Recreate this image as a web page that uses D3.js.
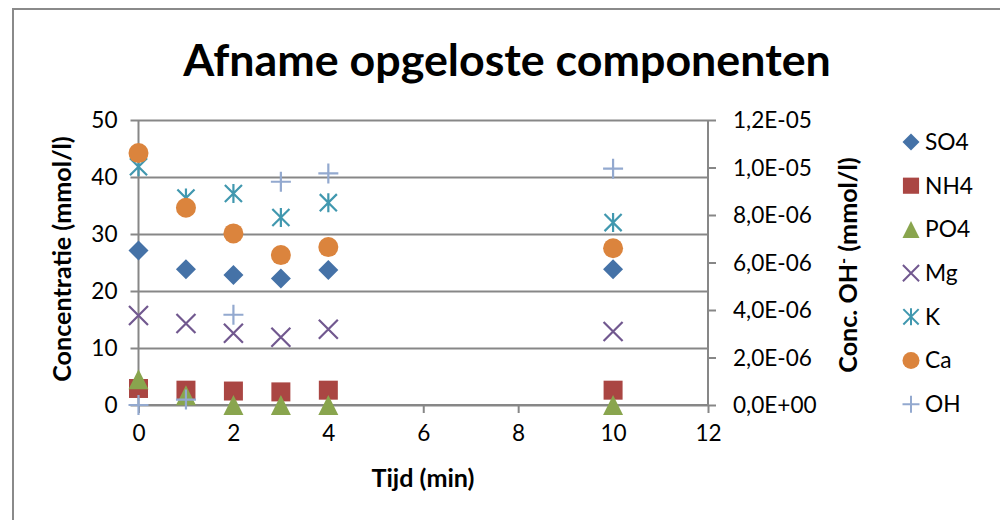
<!DOCTYPE html>
<html>
<head>
<meta charset="utf-8">
<script src="https://cdn.jsdelivr.net/npm/d3@7"></script>
<style>
  html, body { margin: 0; padding: 0; background: #fff; }
  svg text { font-family: Lato, "Open Sans", sans-serif; fill: #000; }
</style>
</head>
<body>
<svg id="chart" width="1000" height="520"></svg>
<script>
// Sampling times (min)
const times = [0, 1, 2, 3, 4, 10];

// Concentrations in mmol/l (left axis)
const so4 = [27.1, 23.8, 22.8, 22.2, 23.7, 23.8];
const nh4 = [2.9, 2.6, 2.45, 2.3, 2.6, 2.6];
const po4 = [4.5, 1.7, 0, 0, 0, 0];
const mg  = [15.7, 14.3, 12.6, 11.9, 13.3, 12.9];
const k   = [41.8, 36.3, 37.1, 32.9, 35.5, 32.0];
const ca  = [44.2, 34.6, 30.1, 26.3, 27.7, 27.5];

// OH- concentration in mmol/l (right axis)
const oh  = [0, 2.3e-7, 3.8e-6, 9.4e-6, 9.75e-6, 9.95e-6];

// Axis ticks
const xTicks = [0, 2, 4, 6, 8, 10, 12];
const yLeftTicks = [0, 10, 20, 30, 40, 50];
const yRightTicks = [0, 2e-6, 4e-6, 6e-6, 8e-6, 1.0e-5, 1.2e-5];

const seriesNames = ["SO4", "NH4", "PO4", "Mg", "K", "Ca", "OH"];
const seriesValues = [so4, nh4, po4, mg, k, ca, oh];
const seriesAxis = ["left", "left", "left", "left", "left", "left", "right"];
const seriesColors = ["#4572A7", "#AA4643", "#89A54E", "#71588F", "#4198AF", "#DB843D", "#93A9CF"];

// Marker shapes, drawn as d3 symbol types (size = half-width in px)
const shapes = {
  diamond: { draw(c, r) { c.moveTo(0, -r); c.lineTo(r, 0); c.lineTo(0, r); c.lineTo(-r, 0); c.closePath(); } },
  square:  { draw(c, r) { const s = r * 0.95; c.moveTo(-s, -s); c.lineTo(s, -s); c.lineTo(s, s); c.lineTo(-s, s); c.closePath(); } },
  triangle:{ draw(c, r) { c.moveTo(0, -r); c.lineTo(r, r); c.lineTo(-r, r); c.closePath(); } },
  times:   { draw(c, r) { const s = r * 0.95; c.moveTo(-s, -s); c.lineTo(s, s); c.moveTo(s, -s); c.lineTo(-s, s); } },
  asterisk:{ draw(c, r) { const s = r * 0.9; c.moveTo(-s, -s); c.lineTo(s, s); c.moveTo(s, -s); c.lineTo(-s, s); c.moveTo(0, -r); c.lineTo(0, r); } },
  circle:  { draw(c, r) { c.moveTo(r, 0); c.arc(0, 0, r, 0, 2 * Math.PI); } },
  plus:    { draw(c, r) { c.moveTo(-r, 0); c.lineTo(r, 0); c.moveTo(0, -r); c.lineTo(0, r); } }
};
const seriesShapes = ["diamond", "square", "triangle", "times", "asterisk", "circle", "plus"];
const filled = { diamond: true, square: true, triangle: true, circle: true };

const svg = d3.select("#chart");
const gray = "#878787";

// Font size that makes a sample string occupy a given width
function fitSize(str, width, weight) {
  const t = svg.append("text").attr("font-size", 20).attr("font-weight", weight || "normal").text(str);
  const w = t.node().getComputedTextLength();
  t.remove();
  return 20 * width / w;
}
const tickSize = fitSize("1,2E-05", 79);
const legendSize = fitSize("NH4", 48);
const axisTitleSize = fitSize("Tijd (min)", 103, "bold");

// Chart frame
svg.append("path")
  .attr("d", "M13,1000 L13,9 L1000,9")
  .attr("fill", "none").attr("stroke", "#8a8a8a").attr("stroke-width", 2);

const x = d3.scaleLinear().domain([0, 12]).range([138.5, 708]);
const yL = d3.scaleLinear().domain([0, 50]).range([405, 120]);
const yR = d3.scaleLinear().domain([0, 1.2e-5]).range([405, 120]);

function sci(d) {
  const [m, e] = d.toExponential(1).split("e");
  const sign = e[0] === "-" ? "-" : "+";
  const ex = String(Math.abs(+e)).padStart(2, "0");
  return m.replace(".", ",") + "E" + sign + ex;
}

// Horizontal gridlines with outside ticks on the left
const gLeft = svg.append("g").attr("transform", `translate(${x(0)},0)`)
  .call(d3.axisLeft(yL).tickValues(yLeftTicks).tickSize(8).tickPadding(13).tickFormat(d3.format("d")));
gLeft.select(".domain").remove();
gLeft.selectAll(".tick line").attr("stroke", gray).attr("stroke-width", 2)
  .attr("x1", -8).attr("x2", x(12) - x(0));
gLeft.selectAll(".tick text").attr("font-size", tickSize).attr("font-family", "Lato").attr("dy", "0.34em");

// Left axis line
svg.append("line").attr("x1", x(0)).attr("x2", x(0)).attr("y1", yL(50)).attr("y2", yL(0))
  .attr("stroke", gray).attr("stroke-width", 2);

// Right axis
const gRight = svg.append("g").attr("transform", `translate(${x(12)},0)`)
  .call(d3.axisRight(yR).tickValues(yRightTicks).tickSize(8).tickPadding(17).tickFormat(sci));
gRight.select(".domain").attr("stroke", gray).attr("stroke-width", 2).attr("d", `M0,${yR(1.2e-5)}V${yR(0)}`);
gRight.selectAll(".tick line").attr("stroke", gray).attr("stroke-width", 2);
gRight.selectAll(".tick text").attr("font-size", tickSize).attr("font-family", "Lato").attr("dy", "0.34em");

// Bottom axis
const gBottom = svg.append("g").attr("transform", `translate(0,${yL(0)})`)
  .call(d3.axisBottom(x).tickValues(xTicks).tickSize(8).tickPadding(12).tickFormat(d3.format("d")));
gBottom.select(".domain").attr("stroke", gray).attr("stroke-width", 2).attr("d", `M${x(0)},0H${x(12)}`);
gBottom.selectAll(".tick line").attr("stroke", gray).attr("stroke-width", 2);
gBottom.selectAll(".tick text").attr("font-size", tickSize).attr("font-family", "Lato").attr("dy", "0.71em");

// Data markers, series drawn in order
seriesNames.forEach((name, i) => {
  const yScale = seriesAxis[i] === "right" ? yR : yL;
  const shape = seriesShapes[i];
  const isFilled = !!filled[shape];
  const r = shape === "asterisk" ? 9.5 : 10;
  svg.append("g").selectAll("path")
    .data(times.map((t, j) => [t, seriesValues[i][j]]))
    .join("path")
    .attr("transform", d => `translate(${x(d[0])},${yScale(d[1])})`)
    .attr("d", d3.symbol().type(shapes[shape]).size(r))
    .attr("fill", isFilled ? seriesColors[i] : "none")
    .attr("stroke", isFilled ? "none" : seriesColors[i])
    .attr("stroke-width", isFilled ? 0 : 2.2);
});

// Title
const title = svg.append("text")
  .attr("x", 507).attr("y", 76)
  .attr("text-anchor", "middle")
  .attr("font-weight", "bold").attr("font-size", 38)
  .text("Afname opgeloste componenten");
const tw = title.node().getComputedTextLength();
title.attr("font-size", 38 * 648 / tw);

// Axis titles
svg.append("text")
  .attr("x", 423).attr("y", 487)
  .attr("text-anchor", "middle").attr("font-weight", "bold").attr("font-size", axisTitleSize)
  .text("Tijd (min)");

svg.append("text")
  .attr("transform", "translate(71,259) rotate(-90)")
  .attr("text-anchor", "middle").attr("font-weight", "bold").attr("font-size", axisTitleSize)
  .text("Concentratie (mmol/l)");

const rt = svg.append("text")
  .attr("transform", "translate(857,265) rotate(-90)")
  .attr("text-anchor", "middle").attr("font-weight", "bold").attr("font-size", axisTitleSize);
rt.append("tspan").text("Conc. OH");
rt.append("tspan").attr("font-size", axisTitleSize * 0.65).attr("dy", -8).text("-");
rt.append("tspan").attr("dy", 8).text(" (mmol/l)");

// Legend
const legend = svg.append("g");
seriesNames.forEach((name, i) => {
  const ly = 142 + i * 43.7;
  const shape = seriesShapes[i];
  const isFilled = !!filled[shape];
  legend.append("path")
    .attr("transform", `translate(911,${ly})`)
    .attr("d", d3.symbol().type(shapes[shape]).size(8.5))
    .attr("fill", isFilled ? seriesColors[i] : "none")
    .attr("stroke", isFilled ? "none" : seriesColors[i])
    .attr("stroke-width", isFilled ? 0 : 2);
  legend.append("text")
    .attr("x", 925).attr("y", ly).attr("dy", "0.35em")
    .attr("font-size", legendSize)
    .text(name);
});
</script>
</body>
</html>
